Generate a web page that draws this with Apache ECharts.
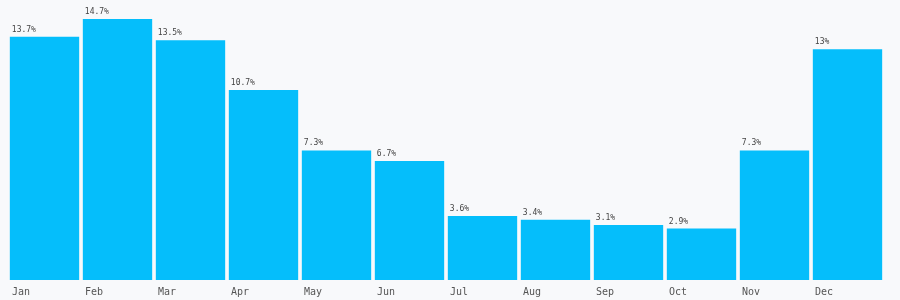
<!DOCTYPE html>
<html><head><meta charset="utf-8">
<script src="https://cdn.jsdelivr.net/npm/echarts@6/dist/echarts.min.js"></script>
<style>html,body{margin:0;padding:0;background:#f8f9fb}#c{width:900px;height:300px}</style>
</head><body><div id="c"></div>
<script>
const categories = ['Jan','Feb','Mar','Apr','May','Jun','Jul','Aug','Sep','Oct','Nov','Dec'];
const values = [13.7,14.7,13.5,10.7,7.3,6.7,3.6,3.4,3.1,2.9,7.3,13];
const chart = echarts.init(document.getElementById('c'));
chart.setOption({
  backgroundColor: '#f8f9fb',
  animation: false,
  grid: {left: 8, right: 16, top: 19, bottom: 20},
  xAxis: {
    type: 'category', data: categories,
    axisLine: {show: false}, axisTick: {show: false},
    axisLabel: {
      margin: 7,
      formatter: '{a|{value}}',
      rich: {a: {width: 65, align: 'left', fontFamily: 'DejaVu Sans Mono', fontSize: 10, color: '#555'}}
    }
  },
  yAxis: {type: 'value', min: 0, max: 14.7, show: false, splitLine: {show: false}},
  series: [{
    type: 'bar', data: values, barCategoryGap: '5%',
    itemStyle: {color: '#05befb'},
    label: {
      show: true, position: [2, -3], align: 'left', verticalAlign: 'bottom',
      formatter: p => p.value + '%',
      fontFamily: 'DejaVu Sans Mono', fontSize: 8, color: '#444'
    }
  }]
});
</script></body></html>
